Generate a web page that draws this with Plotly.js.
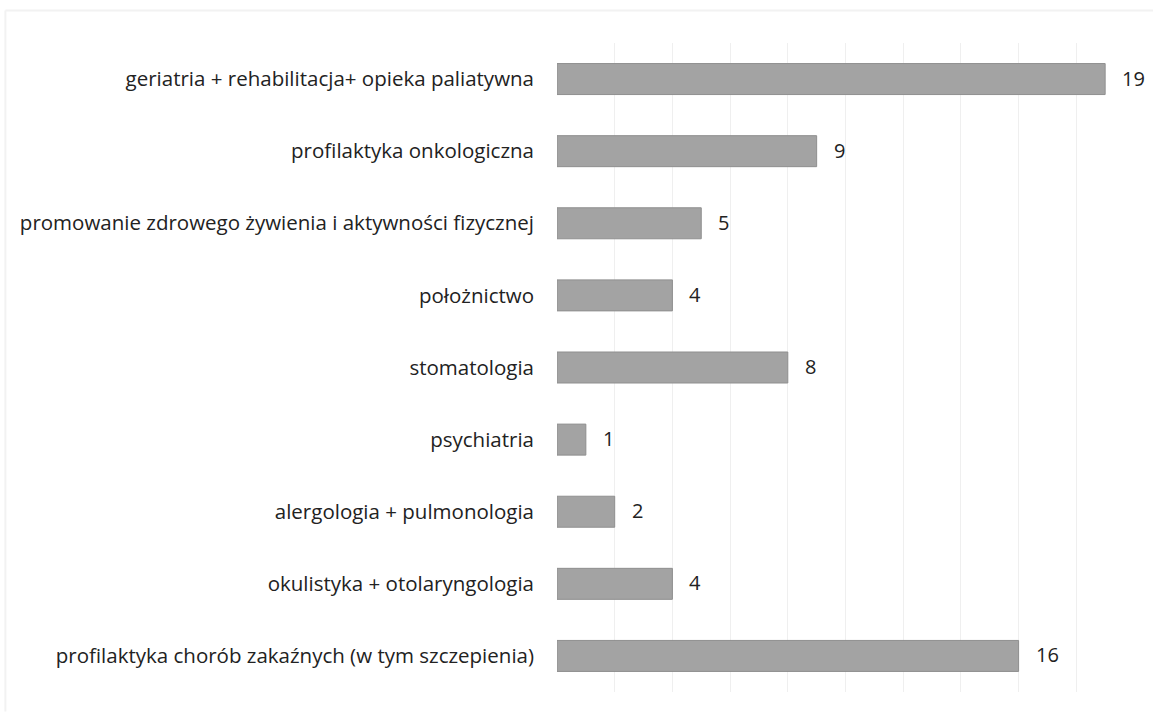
<!DOCTYPE html>
<html>
<head>
<meta charset="utf-8">
<script src="https://cdn.plot.ly/plotly-3.0.1.min.js"></script>
<style>html,body{margin:0;padding:0;background:#fff;}#chart{width:1153px;height:712px;}</style>
</head>
<body>
<div id="chart"></div>
<script>
const categories = [
  "geriatria + rehabilitacja+ opieka paliatywna",
  "profilaktyka onkologiczna",
  "promowanie zdrowego żywienia i aktywności fizycznej",
  "położnictwo",
  "stomatologia",
  "psychiatria",
  "alergologia + pulmonologia",
  "okulistyka + otolaryngologia",
  "profilaktyka chorób zakaźnych (w tym szczepienia)"
];
const values = [19, 9, 5, 4, 8, 1, 2, 4, 16];

const FONT = '"Open Sans", Lato, sans-serif';

const trace = {
  type: 'bar',
  orientation: 'h',
  y: categories,
  x: values,
  width: 0.43,
  marker: {color: '#a3a3a3', line: {color: '#8f8f8f', width: 1}},
  hoverinfo: 'none'
};

const annotations = categories.map((c, i) => ({
  x: values[i], y: c, xref: 'x', yref: 'y',
  text: String(values[i]), showarrow: false,
  xanchor: 'left', xshift: 15, yshift: 1,
  font: {family: FONT, size: 20, color: '#222'}
}));

const layout = {
  width: 1153, height: 712,
  margin: {l: 557, r: 19, t: 43, b: 20},
  paper_bgcolor: '#fff', plot_bgcolor: '#fff',
  showlegend: false,
  bargap: 0.57,
  xaxis: {
    range: [0, 20], dtick: 2, showgrid: true, gridcolor: '#efefef', gridwidth: 1,
    zeroline: false, showticklabels: false, ticks: '', showline: false, fixedrange: true
  },
  yaxis: {
    autorange: 'reversed', categoryorder: 'array', categoryarray: categories,
    showgrid: false, zeroline: false, showline: false, ticks: '',
    ticklabelstandoff: 22,
    tickfont: {family: FONT, size: 20.5, color: '#222'}
  },
  annotations: annotations,
  shapes: [
    {type: 'line', xref: 'paper', yref: 'paper', x0: -0.956, x1: 1.04, y0: 1.05, y1: 1.05, line: {color: '#f2f2f2', width: 2}},
    {type: 'line', xref: 'paper', yref: 'paper', x0: -0.956, x1: -0.956, y0: 1.05, y1: -0.03, line: {color: '#f2f2f2', width: 2}}
  ]
};

Plotly.newPlot('chart', [trace], layout, {staticPlot: true, displayModeBar: false});
</script>
</body>
</html>
